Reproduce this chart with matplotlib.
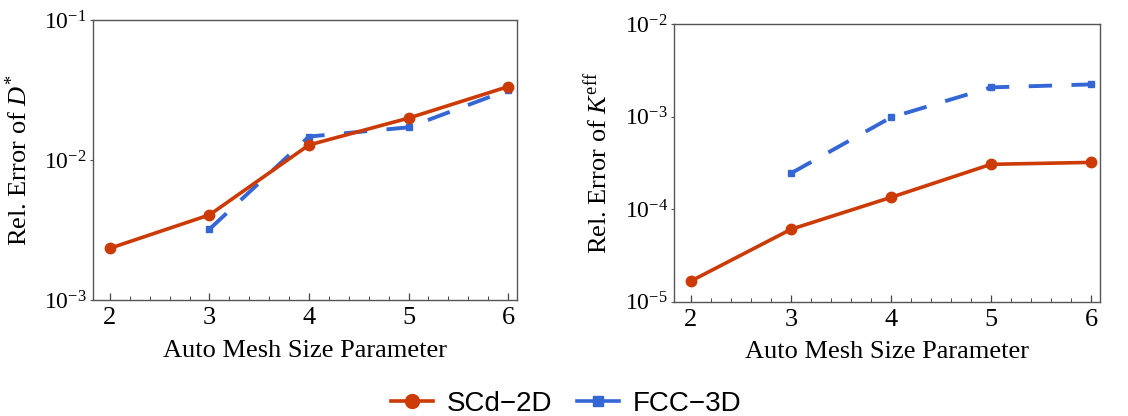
import matplotlib
matplotlib.use("Agg")
import matplotlib.pyplot as plt
from matplotlib.ticker import MultipleLocator, LogLocator, NullLocator, LogFormatterMathtext
from matplotlib.lines import Line2D

# Data
mesh = [2, 3, 4, 5, 6]
mesh_fcc = [3, 4, 5, 6]

d_err_scd = [2.34e-3, 4.05e-3, 1.28e-2, 1.99e-2, 3.34e-2]
d_err_fcc = [3.2e-3, 1.47e-2, 1.71e-2, 3.16e-2]

k_err_scd = [1.67e-5, 6.05e-5, 1.34e-4, 3.05e-4, 3.2e-4]
k_err_fcc = [2.44e-4, 9.8e-4, 2.07e-3, 2.23e-3]

RED = "#CC3A05"
BLUE = "#3566D6"

plt.rcParams["font.family"] = "Liberation Serif"
plt.rcParams["mathtext.fontset"] = "custom"
plt.rcParams["mathtext.rm"] = "Liberation Serif"
plt.rcParams["mathtext.it"] = "Liberation Serif:italic"
plt.rcParams["mathtext.bf"] = "Liberation Serif:bold"

fig = plt.figure(figsize=(11.28, 4.16), dpi=100)
ax1 = fig.add_axes([0.0824, 0.279, 0.376, 0.673])
ax2 = fig.add_axes([0.5975, 0.275, 0.3777, 0.667])


def style(ax, ylim, ylabel, ylab_x, xlab_y):
    ax.set_yscale("log")
    ax.set_xlim(1.83, 6.09)
    ax.set_ylim(*ylim)
    ax.xaxis.set_major_locator(MultipleLocator(1))
    ax.xaxis.set_minor_locator(MultipleLocator(0.2))
    ax.yaxis.set_major_locator(LogLocator(base=10))
    ax.yaxis.set_major_formatter(LogFormatterMathtext())
    ax.yaxis.set_minor_locator(NullLocator())
    ax.tick_params(axis="x", which="major", direction="in", length=5, width=0.9,
                   labelsize=19, pad=5, color="#444444")
    ax.tick_params(axis="x", which="minor", direction="in", length=3, width=0.7,
                   color="#444444")
    ax.tick_params(axis="y", which="major", direction="out", length=2.5,
                   width=0.8, labelsize=17, pad=2, color="#555555")
    for s in ax.spines.values():
        s.set_color("#555555")
        s.set_linewidth(1.0)
    ax.set_xlabel("Auto Mesh Size Parameter", fontsize=19)
    ax.set_ylabel(ylabel, fontsize=19)
    ax.yaxis.set_label_coords(ylab_x, 0.5)
    ax.xaxis.set_label_coords(0.5, xlab_y)


ax1.plot(mesh, d_err_scd, color=RED, lw=2.6, marker="o", ms=7.5, zorder=3)
ax1.plot(mesh_fcc, d_err_fcc, color=BLUE, lw=2.8, marker="s", ms=5,
         dashes=(6, 5), zorder=2)
style(ax1, (1e-3, 1e-1), r"Rel. Error of $D^{*}$", -0.144, -0.143)

ax2.plot(mesh, k_err_scd, color=RED, lw=2.6, marker="o", ms=7.5, zorder=3)
ax2.plot(mesh_fcc, k_err_fcc, color=BLUE, lw=2.8, marker="s", ms=5,
         dashes=(6, 5), zorder=2)
style(ax2, (1e-5, 1e-2), r"Rel. Error of $K^{\mathrm{eff}}$", -0.146, -0.142)

handles = [
    Line2D([], [], color=RED, lw=2.6, marker="o", ms=10),
    Line2D([], [], color=BLUE, lw=2.6, marker="s", ms=6.5),
]
fig.legend(handles, ["SCd\u22122D", "FCC\u22123D"], loc="center",
           bbox_to_anchor=(0.502, 0.03), ncol=2, frameon=False,
           handlelength=1.5, columnspacing=0.9, handletextpad=0.5,
           borderpad=0.1, prop={"family": "Liberation Sans", "size": 20})

fig.savefig("out.png", dpi=100)
